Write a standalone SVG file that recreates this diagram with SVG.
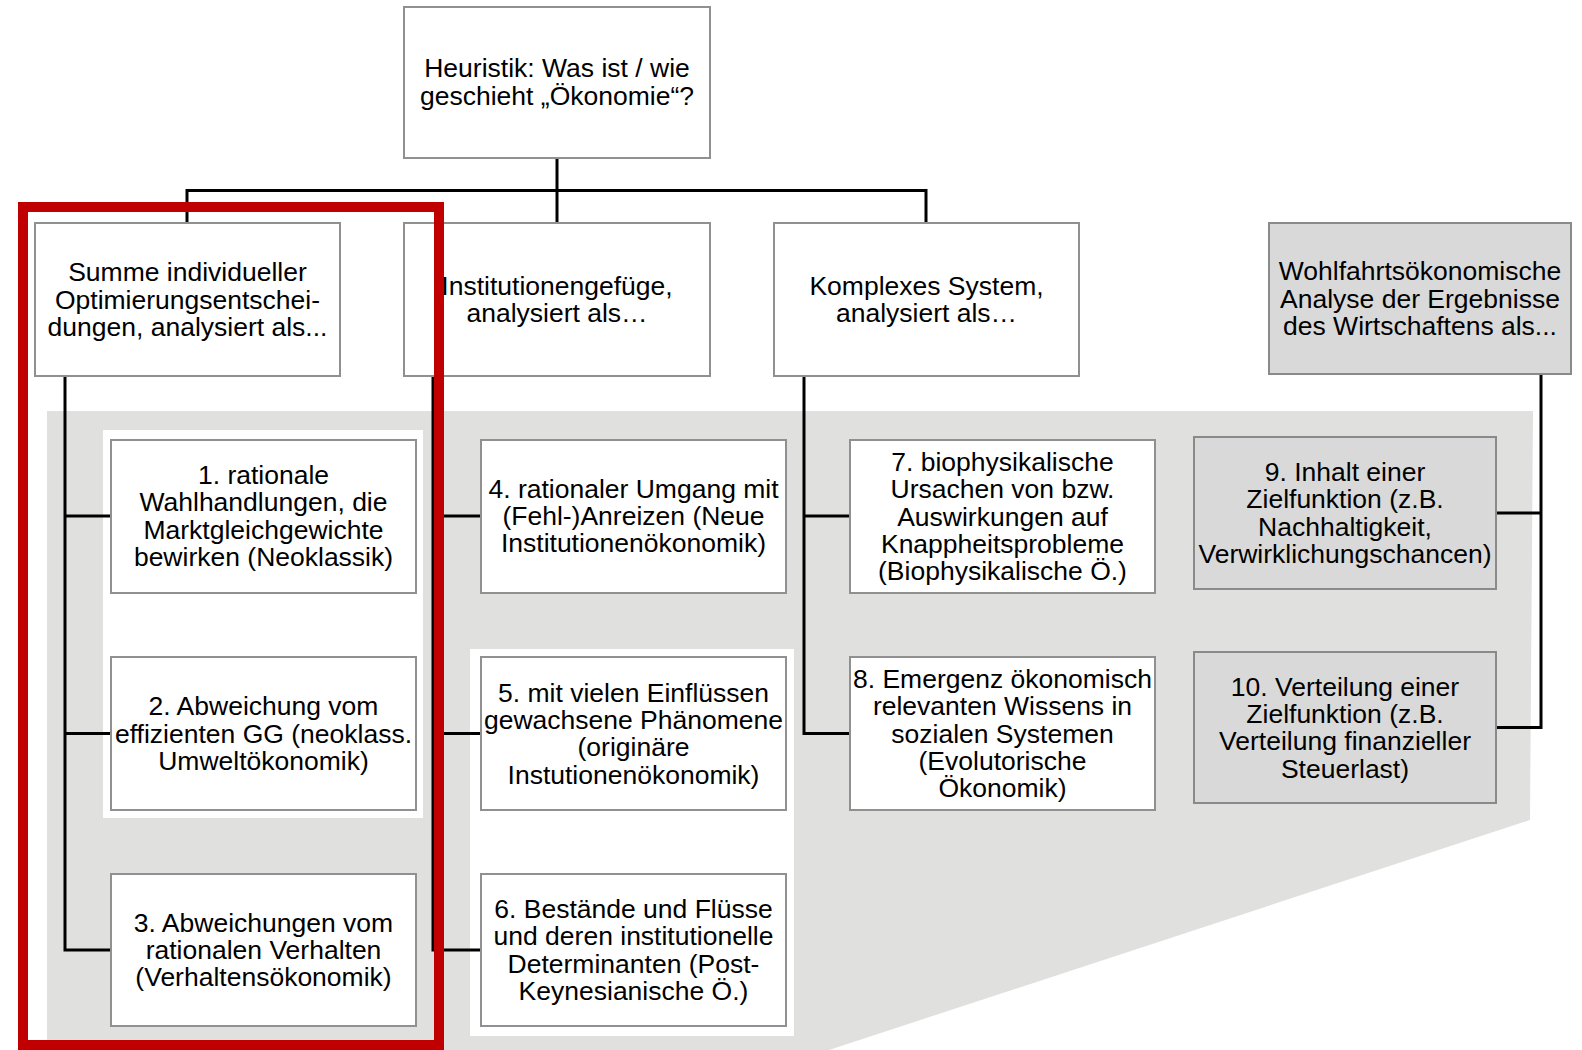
<svg xmlns="http://www.w3.org/2000/svg" width="1582" height="1050" viewBox="0 0 1582 1050">
<style>
.box{fill:#ffffff;stroke:#909090;stroke-width:2}
.gbox{fill:#d9d9d9;stroke:#8a8a8a;stroke-width:2}
.t{font-family:"Liberation Sans",Arial,sans-serif;font-size:26.5px;fill:#000;text-anchor:middle}
.c{fill:none;stroke:#000;stroke-width:3}
</style>
<rect x="0" y="0" width="1582" height="1050" fill="#ffffff"/>
<g id="background">
<polygon points="47,411 1533,411 1530,820 829,1050 47,1050" fill="#e0e1df"/>
<rect x="103" y="430" width="320" height="388" fill="#ffffff"/>
<rect x="470" y="649" width="324" height="387" fill="#ffffff"/>
</g>
<g id="connectors">
<polyline class="c" points="187,223 187,190.5 926,190.5 926,223"/>
<line class="c" x1="557" y1="158" x2="557" y2="223"/>
<polyline class="c" points="65,376 65,950 111,950"/>
<line class="c" x1="65" y1="516" x2="111" y2="516"/>
<line class="c" x1="65" y1="733.5" x2="111" y2="733.5"/>
<polyline class="c" points="433,376 433,950 481,950"/>
<line class="c" x1="433" y1="516" x2="481" y2="516"/>
<line class="c" x1="433" y1="733.5" x2="481" y2="733.5"/>
<polyline class="c" points="804,376 804,733.5 850,733.5"/>
<line class="c" x1="804" y1="516" x2="850" y2="516"/>
<polyline class="c" points="1541,374 1541,727.5 1496,727.5"/>
<line class="c" x1="1541" y1="513" x2="1496" y2="513"/>
</g>
<g id="root">
<rect class="box" x="404" y="7" width="306" height="151"/>
<text class="t"><tspan x="557" y="77.4">Heuristik: Was ist / wie</tspan><tspan x="557" y="104.7">geschieht „Ökonomie“?</tspan></text>
</g>
<g id="nodeA">
<rect class="box" x="35" y="223" width="305" height="153"/>
<text class="t"><tspan x="187.5" y="281.2">Summe individueller</tspan><tspan x="187.5" y="308.5">Optimierungsentschei-</tspan><tspan x="187.5" y="335.8">dungen, analysiert als...</tspan></text>
</g>
<g id="nodeB">
<rect class="box" x="404" y="223" width="306" height="153"/>
<text class="t"><tspan x="557" y="294.9">Institutionengefüge,</tspan><tspan x="557" y="322.2">analysiert als…</tspan></text>
</g>
<g id="nodeC">
<rect class="box" x="774" y="223" width="305" height="153"/>
<text class="t"><tspan x="926.5" y="294.9">Komplexes System,</tspan><tspan x="926.5" y="322.2">analysiert als…</tspan></text>
</g>
<g id="nodeD">
<rect class="gbox" x="1269" y="223" width="302" height="151"/>
<text class="t"><tspan x="1420" y="280.2">Wohlfahrtsökonomische</tspan><tspan x="1420" y="307.5">Analyse der Ergebnisse</tspan><tspan x="1420" y="334.8">des Wirtschaftens als...</tspan></text>
</g>
<g id="node1">
<rect class="box" x="111" y="440" width="305" height="153"/>
<text class="t"><tspan x="263.5" y="484">1. rationale</tspan><tspan x="263.5" y="511.4">Wahlhandlungen, die</tspan><tspan x="263.5" y="538.7">Marktgleichgewichte</tspan><tspan x="263.5" y="566">bewirken (Neoklassik)</tspan></text>
</g>
<g id="node2">
<rect class="box" x="111" y="657" width="305" height="153"/>
<text class="t"><tspan x="263.5" y="715.2">2. Abweichung vom</tspan><tspan x="263.5" y="742.5">effizienten GG (neoklass.</tspan><tspan x="263.5" y="769.8">Umweltökonomik)</tspan></text>
</g>
<g id="node3">
<rect class="box" x="111" y="874" width="305" height="152"/>
<text class="t"><tspan x="263.5" y="931.7">3. Abweichungen vom</tspan><tspan x="263.5" y="959">rationalen Verhalten</tspan><tspan x="263.5" y="986.3">(Verhaltensökonomik)</tspan></text>
</g>
<g id="node4">
<rect class="box" x="481" y="440" width="305" height="153"/>
<text class="t"><tspan x="633.5" y="497.7">4. rationaler Umgang mit</tspan><tspan x="633.5" y="525">(Fehl-)Anreizen (Neue</tspan><tspan x="633.5" y="552.3">Institutionenökonomik)</tspan></text>
</g>
<g id="node5">
<rect class="box" x="481" y="657" width="305" height="153"/>
<text class="t"><tspan x="633.5" y="701.5">5. mit vielen Einflüssen</tspan><tspan x="633.5" y="728.9">gewachsene Phänomene</tspan><tspan x="633.5" y="756.2">(originäre</tspan><tspan x="633.5" y="783.5">Instutionenökonomik)</tspan></text>
</g>
<g id="node6">
<rect class="box" x="481" y="874" width="305" height="152"/>
<text class="t"><tspan x="633.5" y="918">6. Bestände und Flüsse</tspan><tspan x="633.5" y="945.4">und deren institutionelle</tspan><tspan x="633.5" y="972.7">Determinanten (Post-</tspan><tspan x="633.5" y="1000">Keynesianische Ö.)</tspan></text>
</g>
<g id="node7">
<rect class="box" x="850" y="440" width="305" height="153"/>
<text class="t"><tspan x="1002.5" y="470.9">7. biophysikalische</tspan><tspan x="1002.5" y="498.2">Ursachen von bzw.</tspan><tspan x="1002.5" y="525.5">Auswirkungen auf</tspan><tspan x="1002.5" y="552.8">Knappheitsprobleme</tspan><tspan x="1002.5" y="580.1">(Biophysikalische Ö.)</tspan></text>
</g>
<g id="node8">
<rect class="box" x="850" y="657" width="305" height="153"/>
<text class="t"><tspan x="1002.5" y="687.9">8. Emergenz ökonomisch</tspan><tspan x="1002.5" y="715.2">relevanten Wissens in</tspan><tspan x="1002.5" y="742.5">sozialen Systemen</tspan><tspan x="1002.5" y="769.8">(Evolutorische</tspan><tspan x="1002.5" y="797.1">Ökonomik)</tspan></text>
</g>
<g id="node9">
<rect class="gbox" x="1194" y="437" width="302" height="152"/>
<text class="t"><tspan x="1345" y="481">9. Inhalt einer</tspan><tspan x="1345" y="508.4">Zielfunktion (z.B.</tspan><tspan x="1345" y="535.7">Nachhaltigkeit,</tspan><tspan x="1345" y="563">Verwirklichungschancen)</tspan></text>
</g>
<g id="node10">
<rect class="gbox" x="1194" y="652" width="302" height="151"/>
<text class="t"><tspan x="1345" y="695.5">10. Verteilung einer</tspan><tspan x="1345" y="722.9">Zielfunktion (z.B.</tspan><tspan x="1345" y="750.2">Verteilung finanzieller</tspan><tspan x="1345" y="777.5">Steuerlast)</tspan></text>
</g>
<g id="highlight">
<rect x="23" y="207" width="416" height="838" fill="none" stroke="#c00000" stroke-width="10"/>
</g>
</svg>
